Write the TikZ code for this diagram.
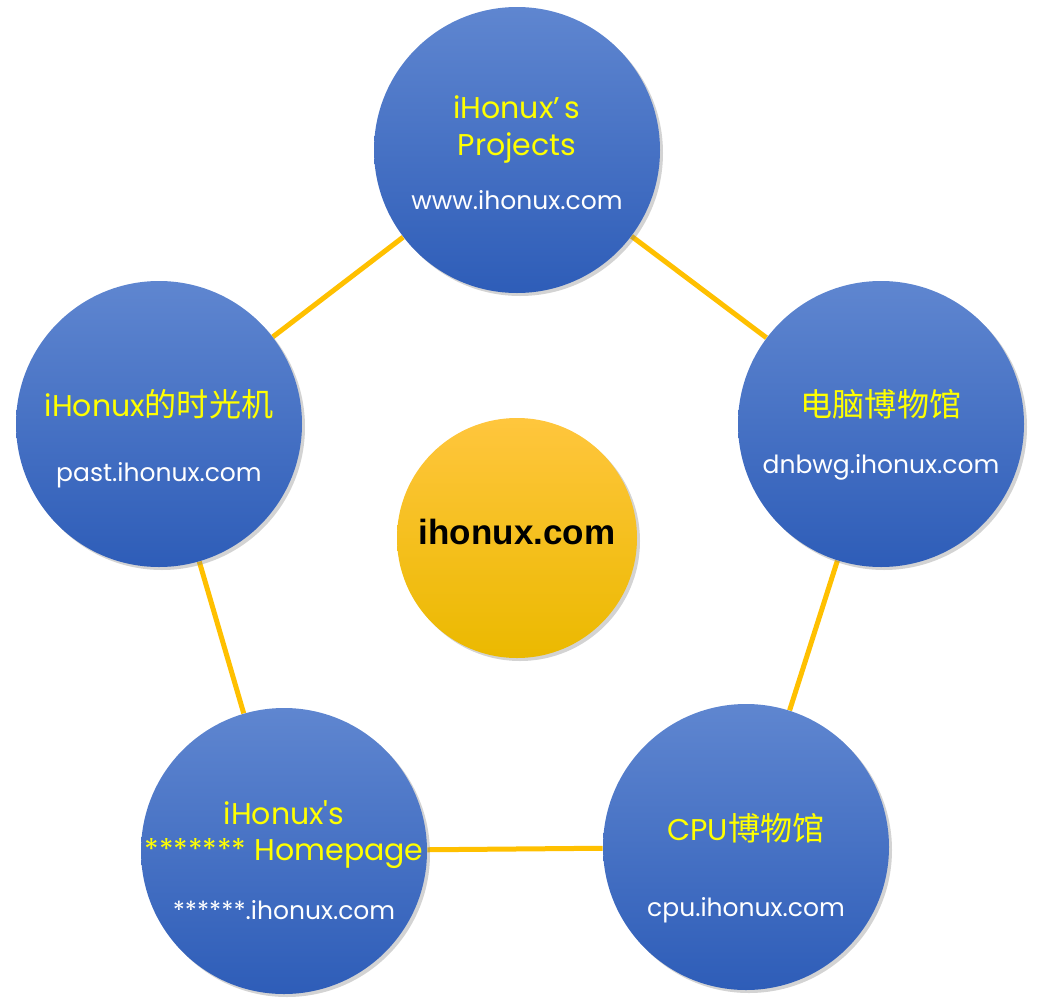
\documentclass[tikz,border=0pt]{standalone}
\usepackage{fontspec}
\setmainfont{Poppins}
\newfontfamily\cjk{Noto Sans CJK SC}[Scale=1.07]
\newfontfamily\hubfont{Liberation Sans}
\usetikzlibrary{shadows,backgrounds,calc}

\definecolor{bluetop}{HTML}{5F86D0}
\definecolor{bluebot}{HTML}{2E5DB8}
\definecolor{goldtop}{HTML}{FFC63D}
\definecolor{goldbot}{HTML}{EBB900}
\definecolor{linkcol}{HTML}{FFC000}
\definecolor{titlecol}{HTML}{FFFF00}

\begin{document}
\begin{tikzpicture}[x=0.5pt,y=-0.5pt,
  site/.style={circle,minimum size=143pt,inner sep=0pt,top color=bluetop,bottom color=bluebot,
    drop shadow={opacity=0.35,shadow xshift=1.5pt,shadow yshift=-1.5pt}},
  hub/.style={circle,minimum size=120pt,inner sep=0pt,top color=goldtop,bottom color=goldbot,
    drop shadow={opacity=0.35,shadow xshift=1.5pt,shadow yshift=-1.5pt}},
  ttl/.style={inner sep=0pt,text=titlecol,font=\fontsize{15}{18}\selectfont},
  url/.style={inner sep=0pt,text=white,font=\fontsize{12.5}{15}\selectfont},
  link/.style={draw=linkcol,line width=2.5pt}]

\useasboundingbox (0,0) rectangle (1040,1007);

% circles
\node[site] (www)   at (517,150) {};
\node[site] (past)  at (159,424) {};
\node[site] (dnbwg) at (881,424) {};
\node[site] (cpu)   at (746,847) {};
\node[site] (home)  at (284,851) {};
\node[hub]  (ihx)   at (517,538) {};

% texts
\node[ttl] (www-t1)   at ($(www)+(0,-43)$)  {iHonux’\,s};
\node[ttl] (www-t2)   at ($(www)+(0,-2)$)   {Projects};
\node[url] (www-u)    at ($(www)+(0,50)$)   {www.ihonux.com};
\node[ttl] (past-t)   at ($(past)+(0,-20)$) {iHonux{\cjk 的时光机}};
\node[url] (past-u)   at ($(past)+(0,51)$)  {past.ihonux.com};
\node[ttl] (dnbwg-t)  at ($(dnbwg)+(0,-20)$) {\cjk 电脑博物馆};
\node[url] (dnbwg-u)  at ($(dnbwg)+(0,43)$) {dnbwg.ihonux.com};
\node[ttl] (cpu-t)    at ($(cpu)+(0,-19)$)  {CPU{\cjk 博物馆}};
\node[url] (cpu-u)    at ($(cpu)+(0,63)$)   {cpu.ihonux.com};
\node[ttl] (home-t1)  at ($(home)+(0,-38)$) {iHonux\textquotesingle s};
\node[ttl] (home-t2)  at ($(home)+(0,3)$)   {******* Homepage};
\node[url] (home-u)   at ($(home)+(0,59)$)  {******.ihonux.com};
\node[font=\hubfont\bfseries\fontsize{17.5}{20}\selectfont] (ihx-t) at ($(ihx)+(0,-6)$) {ihonux.com};

\begin{scope}[on background layer]
\path[link]
	(www) edge (past)
	(www) edge (dnbwg)
	(dnbwg) edge (cpu)
	(cpu) edge (home)
	(home) edge (past);
\end{scope}

\end{tikzpicture}
\end{document}
